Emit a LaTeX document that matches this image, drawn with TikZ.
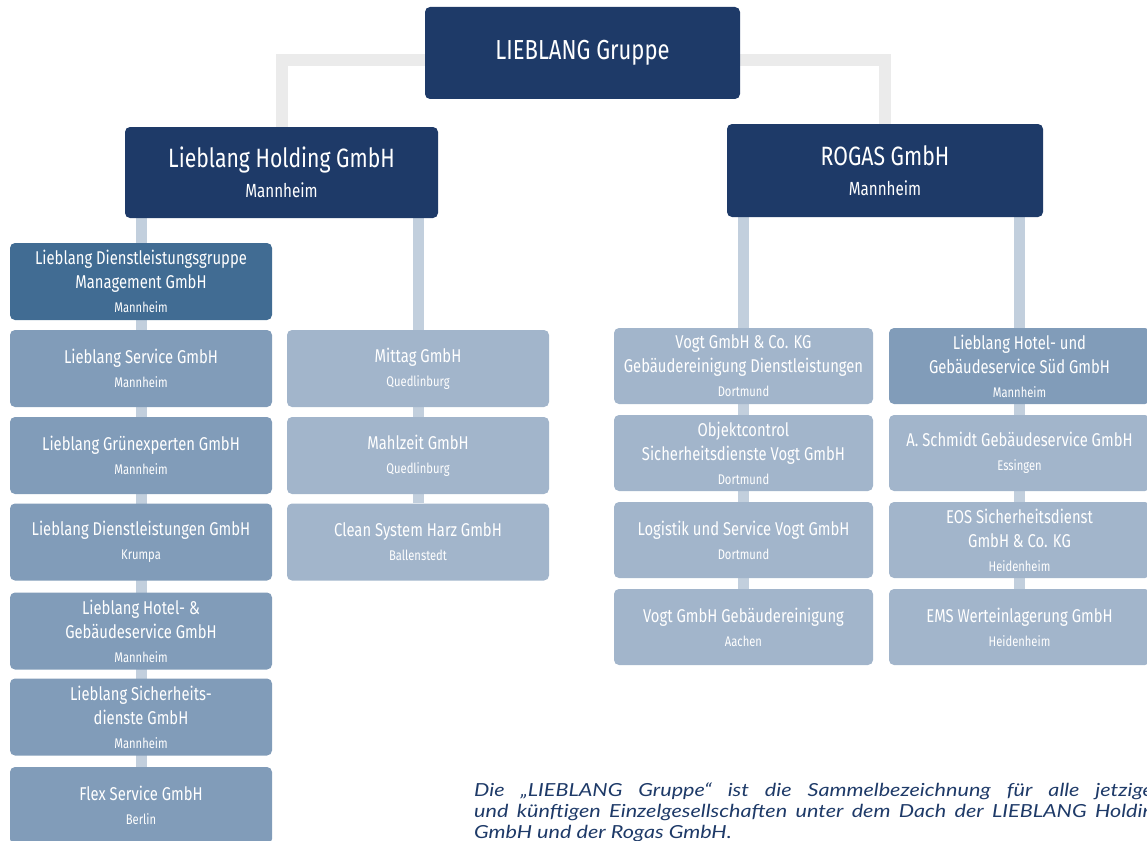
\documentclass[tikz,border=0pt]{standalone}
\usepackage{fontspec}
\setmainfont{Fira Sans}[FakeStretch=0.8]
\newfontfamily\notefont{Lato}[FakeStretch=1.2]
\usetikzlibrary{backgrounds}
\definecolor{navy}{HTML}{1E3A68}
\definecolor{cmgmt}{HTML}{416C93}
\definecolor{cmed}{HTML}{819CB9}
\definecolor{clight}{HTML}{A2B5CB}
\definecolor{cconn}{HTML}{C2CFDD}
\definecolor{cgrey}{HTML}{EBEBEB}
\newcommand\locname[1]{{\fontsize{14}{14}\selectfont #1}}
\begin{document}
\begin{tikzpicture}[x=1pt,y=-1pt,
  orgbox/.style={rectangle, rounded corners=5pt, inner sep=0pt, align=center, text=white,
    font=\fontsize{18.5}{24}\selectfont},
  topbox/.style={orgbox, fill=navy},
  mgmtbox/.style={orgbox, fill=cmgmt},
  medbox/.style={orgbox, fill=cmed},
  lightbox/.style={orgbox, fill=clight},
  colL/.style={minimum width=262pt, minimum height=77pt},
  colA/.style={minimum width=259pt, minimum height=76pt},
  colB/.style={minimum width=261pt, minimum height=76pt},
  conn/.style={draw=cconn, line width=11pt},
  greyline/.style={draw=cgrey, line width=12pt}
]
\useasboundingbox (0,0) rectangle (1147,840);
\clip (0,0) rectangle (1147,840);

% top level
\node[topbox, minimum width=315pt, minimum height=92pt, font=\fontsize{27.5}{30}\selectfont] (grp) at (582.5,53) {LIEBLANG Gruppe};
\node[topbox, minimum width=313pt, minimum height=91pt, font=\fontsize{26.5}{30}\selectfont] (hold) at (281.5,172.5) {Lieblang Holding GmbH\\{\fontsize{19}{19}\selectfont Mannheim}};
\node[topbox, minimum width=316pt, minimum height=93pt, font=\fontsize{26.5}{30}\selectfont] (rogas) at (885,170.5) {ROGAS GmbH\\{\fontsize{19}{19}\selectfont Mannheim}};

% left column
\node[mgmtbox, colL] (mgmt) at (141,281.5) {Lieblang Dienstleistungsgruppe\\Management GmbH\\\locname{Mannheim}};
\node[medbox, colL] (svc) at (141,368.5) {Lieblang Service GmbH\\\locname{Mannheim}};
\node[medbox, colL] (gruen) at (141,455.5) {Lieblang Grünexperten GmbH\\\locname{Mannheim}};
\node[medbox, colL] (dienst) at (141,542) {Lieblang Dienstleistungen GmbH\\\locname{Krumpa}};
\node[medbox, colL] (hotel) at (141,631) {Lieblang Hotel- \&\\Gebäudeservice GmbH\\\locname{Mannheim}};
\node[medbox, colL] (sicher) at (141,717) {Lieblang Sicherheits-\\dienste GmbH\\\locname{Mannheim}};
\node[medbox, colL] (flex) at (141,805.5) {Flex Service GmbH\\\locname{Berlin}};

% middle column
\node[lightbox, colL] (mittag) at (418,368.5) {Mittag GmbH\\\locname{Quedlinburg}};
\node[lightbox, colL] (mahl) at (418,455.5) {Mahlzeit GmbH\\\locname{Quedlinburg}};
\node[lightbox, colL] (clean) at (418,542) {Clean System Harz GmbH\\\locname{Ballenstedt}};

% ROGAS column A
\node[lightbox, colA] (va) at (743.5,366) {Vogt GmbH \& Co. KG\\Gebäudereinigung Dienstleistungen\\\locname{Dortmund}};
\node[lightbox, colA] (vb) at (743.5,453) {Objektcontrol\\Sicherheitsdienste Vogt GmbH\\\locname{Dortmund}};
\node[lightbox, colA] (vc) at (743.5,540) {Logistik und Service Vogt GmbH\\\locname{Dortmund}};
\node[lightbox, colA] (vd) at (743.5,627) {Vogt GmbH Gebäudereinigung\\\locname{Aachen}};

% ROGAS column B
\node[medbox, colB] (sa) at (1019.5,366) {Lieblang Hotel- und\\Gebäudeservice Süd GmbH\\\locname{Mannheim}};
\node[lightbox, colB] (sb) at (1019.5,453) {A. Schmidt Gebäudeservice GmbH\\\locname{Essingen}};
\node[lightbox, colB] (sc) at (1019.5,540) {EOS Sicherheitsdienst\\GmbH \& Co. KG\\\locname{Heidenheim}};
\node[lightbox, colB] (sd) at (1019.5,627) {EMS Werteinlagerung GmbH\\\locname{Heidenheim}};

% note
\node[anchor=north west, text width=690pt, align=justify, inner sep=0pt, text=navy,
  font=\notefont\itshape\fontsize{18}{21}\selectfont] (note) at (474,783)
  {Die „LIEBLANG Gruppe“ ist die Sammelbezeichnung für alle jetzigen\linebreak
   und künftigen Einzelgesellschaften unter dem Dach der LIEBLANG Holding\linebreak
   GmbH und der Rogas GmbH.};

\begin{scope}[on background layer]
  \coordinate (yT) at (0,60);
  \draw[greyline] (hold.north) |- (grp.center |- yT) -| (rogas.north);
  \draw[conn] (hold.south -| mgmt.north) -- (flex.north);
  \draw[conn] (hold.south -| mittag.north) -- (clean.north);
  \draw[conn] (rogas.south -| va.north) -- (vd.north);
  \draw[conn] (rogas.south -| sa.north) -- (sd.north);
\end{scope}
\end{tikzpicture}
\end{document}
